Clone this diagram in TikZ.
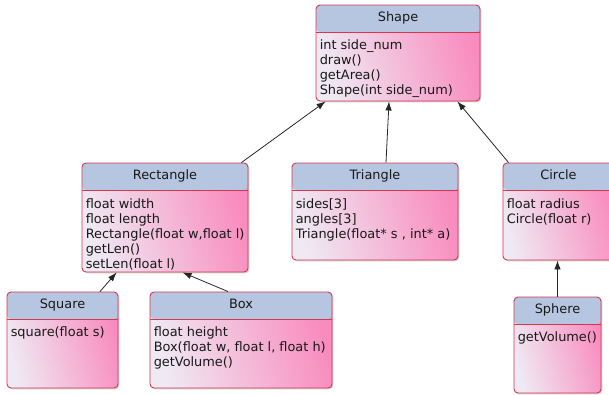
\documentclass[tikz,border=0pt]{standalone}
\usepackage{fontspec}
\setmainfont{DejaVu Sans}
\usetikzlibrary{shadows,arrows.meta}

\definecolor{headblue}{HTML}{B6C6E0}
\definecolor{bodypink}{HTML}{F98BBE}
\definecolor{bodylight}{HTML}{EFE9F3}
\definecolor{edgered}{HTML}{D4384F}

\tikzset{
  umlclass/.style={
    draw=edgered, line width=0.9pt, rounded corners=4pt,
    left color=bodylight, right color=bodypink, shading angle=105,
    inner sep=0pt,
    drop shadow={shadow xshift=1.3pt, shadow yshift=-1.3pt, opacity=0.3, fill=black!60},
    path picture={
      \fill[headblue] (path picture bounding box.north west)
        rectangle ([yshift=-27pt]path picture bounding box.north east);
      \draw[edgered, line width=0.9pt]
        ([yshift=-27pt]path picture bounding box.north west)
        -- ([yshift=-27pt]path picture bounding box.north east);
    }
  },
  classtitle/.style={anchor=base, inner sep=0pt, text=black!90,
    font=\fontsize{12.9}{15}\selectfont},
  classbody/.style={anchor=north west, align=left, inner sep=0pt, text=black!90,
    font=\fontsize{12.9}{15}\selectfont},
  inherit/.style={draw=black!85, line width=0.8pt,
    -{Latex[length=9pt,width=6.5pt]}}
}

\begin{document}
\begin{tikzpicture}[x=1pt, y=-1pt]
\useasboundingbox (0,0) rectangle (609,394);

% class boxes
\node[umlclass, minimum width=164pt, minimum height=96pt]  (shape)  at (398,53)    {};
\node[umlclass, minimum width=166pt, minimum height=109pt] (rect)   at (165,217.5) {};
\node[umlclass, minimum width=166pt, minimum height=97pt]  (tri)    at (375,211.5) {};
\node[umlclass, minimum width=111pt, minimum height=97pt]  (circ)   at (558.5,211.5) {};
\node[umlclass, minimum width=111pt, minimum height=96pt]  (square) at (62.5,340)  {};
\node[umlclass, minimum width=182pt, minimum height=96pt]  (box)    at (241,340)   {};
\node[umlclass, minimum width=87pt,  minimum height=96pt]  (sphere) at (557.5,345) {};

% class names
\node[classtitle] (shapeT)  at ([yshift=-17pt]shape.north)  {Shape};
\node[classtitle] (rectT)   at ([yshift=-17pt]rect.north)   {Rectangle};
\node[classtitle] (triT)    at ([yshift=-17pt]tri.north)    {Triangle};
\node[classtitle] (circT)   at ([yshift=-17pt]circ.north)   {Circle};
\node[classtitle] (squareT) at ([yshift=-17pt]square.north) {Square};
\node[classtitle] (boxT)    at ([yshift=-17pt]box.north)    {Box};
\node[classtitle] (sphereT) at ([yshift=-17pt]sphere.north) {Sphere};

% members
\node[classbody] (shapeB)  at ([xshift=4pt,yshift=-35pt]shape.north west)
  {int side\_num\\draw()\\getArea()\\Shape(int side\_num)};
\node[classbody] (rectB)   at ([xshift=4pt,yshift=-35.5pt]rect.north west)
  {float width\\float length\\Rectangle(float w,float l)\\getLen()\\setLen(float l)};
\node[classbody] (triB)    at ([xshift=4pt,yshift=-35.5pt]tri.north west)
  {sides[3]\\angles[3]\\Triangle(float* s , int* a)};
\node[classbody] (circB)   at ([xshift=4pt,yshift=-35.5pt]circ.north west)
  {float radius\\Circle(float r)};
\node[classbody] (squareB) at ([xshift=4pt,yshift=-35pt]square.north west)
  {square(float s)};
\node[classbody] (boxB)    at ([xshift=4pt,yshift=-35pt]box.north west)
  {float height\\Box(float w, float l, float h)\\getVolume()};
\node[classbody] (sphereB) at ([xshift=4pt,yshift=-35pt]sphere.north west)
  {getVolume()};

% inheritance
\draw[inherit] ([xshift=-7pt]rect.north east)  -- ([xshift=10pt]shape.south west);
\draw[inherit] ([xshift=11pt]tri.north)        -- ([xshift=-9pt]shape.south);
\draw[inherit] ([xshift=6pt]circ.north west)   -- ([xshift=-23pt]shape.south east);
\draw[inherit] ([xshift=37.5pt]square.north)   -- ([xshift=35pt]rect.south west);
\draw[inherit] ([xshift=-13pt]box.north)       -- ([xshift=101pt]rect.south west);
\draw[inherit] (sphere.north)                  -- (sphere.north |- circ.south);
\end{tikzpicture}
\end{document}
